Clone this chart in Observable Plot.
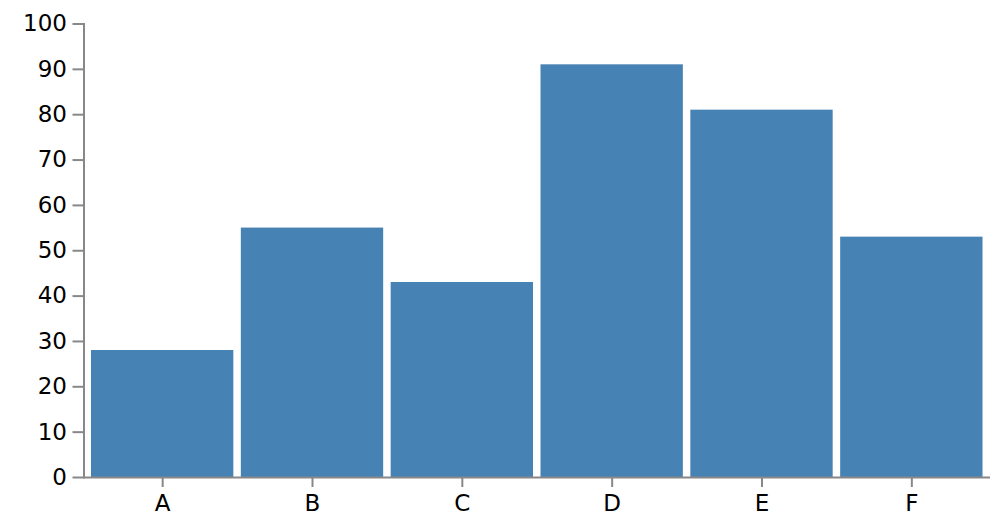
<!DOCTYPE html>
<html>
<head>
<meta charset="utf-8">
<script src="https://cdn.jsdelivr.net/npm/d3@7"></script>
<script src="https://cdn.jsdelivr.net/npm/@observablehq/plot@0.6"></script>
<style>
  html, body { margin: 0; padding: 0; background: #fff; }
  #chart svg { display: block; }
</style>
</head>
<body>
<div id="chart"></div>
<script>
const categories = ["A", "B", "C", "D", "E", "F"];
const values = [28, 55, 43, 91, 81, 53];
const yTicks = [0, 10, 20, 30, 40, 50, 60, 70, 80, 90, 100];

const data = categories.map((c, i) => ({category: c, value: values[i]}));

const chart = Plot.plot({
  width: 1000,
  height: 526,
  marginLeft: 83.5,
  marginRight: 10,
  marginTop: 23.5,
  marginBottom: 49,
  style: {fontFamily: "DejaVu Sans", fontSize: "23px", color: "#000", background: "#fff"},
  x: {domain: categories, padding: 0.05, round: false, label: null},
  y: {domain: [0, 100], label: null},
  marks: [
    Plot.barY(data, {x: "category", y: "value", fill: "#4682b4"}),
    Plot.frame({anchor: "left", stroke: "#888", strokeWidth: 2}),
    Plot.ruleY([0], {stroke: "#888", strokeWidth: 2}),
    Plot.axisY(yTicks, {tickSize: 11, tickPadding: 6, stroke: "#888", strokeWidth: 2, fill: "#000", fontSize: 23, label: null}),
    Plot.axisX({tickSize: 10, tickPadding: 7, stroke: "#888", strokeWidth: 2, fill: "#000", fontSize: 23, label: null})
  ]
});
document.getElementById("chart").appendChild(chart);
</script>
</body>
</html>
